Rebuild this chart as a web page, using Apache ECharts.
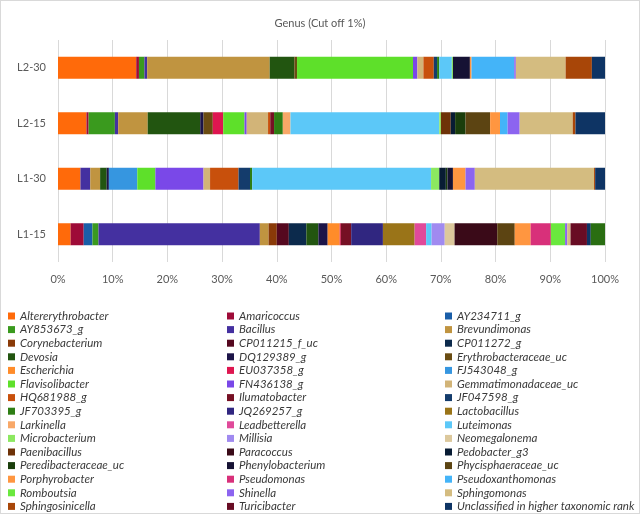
<!DOCTYPE html>
<html>
<head>
<meta charset="utf-8" />
<title>Genus (Cut off 1%)</title>
<script src="https://cdn.jsdelivr.net/npm/echarts@6/dist/echarts.min.js"></script>
<style>
	html, body { margin: 0; padding: 0; background: #fff; }
	#chart { width: 640px; height: 514px; box-sizing: border-box; border: 1px solid #d9d9d9; }
</style>
</head>
<body>
<div id="chart"></div>
<script type="text/javascript">
	// samples, bottom to top as in the picture
	const samples = ['L1-15', 'L1-30', 'L2-15', 'L2-30'];

	const genera = [
		'Altererythrobacter', 'Amaricoccus', 'AY234711_g', 'AY853673_g', 'Bacillus',
		'Brevundimonas', 'Corynebacterium', 'CP011215_f_uc', 'CP011272_g', 'Devosia',
		'DQ129389_g', 'Erythrobacteraceae_uc', 'Escherichia', 'EU037358_g', 'FJ543048_g',
		'Flavisolibacter', 'FN436138_g', 'Gemmatimonadaceae_uc', 'HQ681988_g', 'Ilumatobacter',
		'JF047598_g', 'JF703395_g', 'JQ269257_g', 'Lactobacillus', 'Larkinella',
		'Leadbetterella', 'Luteimonas', 'Microbacterium', 'Millisia', 'Neomegalonema',
		'Paenibacillus', 'Paracoccus', 'Pedobacter_g3', 'Peredibacteraceae_uc', 'Phenylobacterium',
		'Phycisphaeraceae_uc', 'Porphyrobacter', 'Pseudomonas', 'Pseudoxanthomonas', 'Romboutsia',
		'Shinella', 'Sphingomonas', 'Sphingosinicella', 'Turicibacter', 'Unclassified in higher taxonomic rank',
		'Others'
	];

	const colors = [
		'#ff6a0a', '#9e0b38', '#1a5ea8', '#3a9a1e', '#4430a0',
		'#c09440', '#8a3a08', '#55081f', '#0c2a4c', '#225510',
		'#1c1448', '#6a4c12', '#ff8c2a', '#de1650', '#3696e0',
		'#5ee02a', '#7a48e8', '#d2b478', '#c8500c', '#761024',
		'#143c6c', '#2e7e14', '#302680', '#9a7418', '#f8a868',
		'#e04a9a', '#5cc8f8', '#8ce860', '#a08af0', '#dcc89c',
		'#6e3208', '#3a0a18', '#081c34', '#1a3e0c', '#161234',
		'#5c4412', '#ff9640', '#d8307a', '#44b4f8', '#6ae83e',
		'#8c64f0', '#d4bc80', '#a84608', '#680c24', '#0e3464',
		'#2a6e12'
	];

	// relative abundance (%) per genus, same order as genera
	const l1_15 = [
		2.3, 2.4, 1.6, 1.1, 29.5, 1.6, 1.5, 2.2, 3.2, 2.2,
		1.7, 0, 2.2, 0.2, 0, 0, 0, 0, 0, 1.9,
		0, 0, 5.8, 5.8, 0, 2.1, 1.0, 0, 2.4, 1.8,
		0, 7.8, 0, 0, 0, 3.2, 2.9, 3.7, 0, 2.6,
		0.4, 0.6, 0, 3.0, 0.7, 2.6
	];
	const l1_30 = [
		4.1, 0, 0, 0, 1.8, 1.8, 0, 0, 0, 1.2,
		0.4, 0, 0, 0, 5.2, 3.3, 8.8, 1.2, 5.2, 0,
		2.1, 0.4, 0, 0, 0, 0, 32.7, 1.5, 0, 0,
		0, 0, 1.2, 0.3, 1.0, 0, 2.3, 0, 0, 0,
		1.7, 21.8, 0.2, 0, 1.8, 0
	];
	const l2_15 = [
		5.2, 0.4, 0, 4.8, 0.6, 5.4, 0, 0, 0, 9.6,
		0.6, 1.7, 0, 1.9, 0, 3.9, 0.4, 3.9, 0.4, 0.7,
		0, 1.6, 0, 0, 1.4, 0, 27.2, 0.3, 0, 0,
		1.8, 0, 0.8, 1.9, 0, 4.5, 1.8, 0, 1.4, 0,
		2.2, 9.7, 0.5, 0, 5.4, 0
	];
	const l2_30 = [
		14.3, 0.5, 0, 1.0, 0.5, 22.4, 0, 0, 0, 4.5,
		0, 0.5, 0, 0, 0, 21.2, 0.8, 1.1, 1.9, 0,
		0.6, 0.4, 0, 0, 0, 0, 2.3, 0.2, 0, 0,
		0, 0, 0, 0, 3.1, 0, 0.3, 0, 7.8, 0,
		0.3, 9.1, 4.8, 0, 2.4, 0
	];

	const xTicks = { min: 0, max: 100, step: 10 };

	const chart = echarts.init(document.getElementById('chart'), null, { renderer: 'canvas' });
	const sampleRows = [l1_15, l1_30, l2_15, l2_30];

	const series = genera.map(function (name, i) {
		return {
			name: name,
			type: 'bar',
			stack: 'total',
			barWidth: 22,
			itemStyle: { color: colors[i] },
			emphasis: { disabled: true },
			data: sampleRows.map(function (row) { return row[i]; })
		};
	});

	// legend in three columns, read row by row (Others is not listed)
	const legendFont = {
		color: '#3a3a3a',
		fontSize: 11.5,
		fontStyle: 'italic',
		fontFamily: 'Lato',
		lineHeight: 12
	};
	const columnLeft = [7, 226, 444];
	const legends = columnLeft.map(function (left, c) {
		const names = [];
		for (let i = c; i < 45; i += 3) names.push(genera[i]);
		return {
			orient: 'vertical',
			left: left,
			top: 309,
			icon: 'rect',
			itemWidth: 7,
			itemHeight: 7,
			itemGap: 1.6,
			padding: 0,
			selectedMode: false,
			textStyle: legendFont,
			data: names
		};
	});

	const option = {
		animation: false,
		textStyle: { fontFamily: 'Lato' },
		title: {
			text: 'Genus (Cut off 1%)',
			left: 'center',
			top: 12,
			textStyle: { color: '#595959', fontSize: 11, fontWeight: 'normal', fontFamily: 'Lato' }
		},
		legend: legends,
		grid: { left: 57, right: 34, top: 39, height: 222, containLabel: false },
		xAxis: {
			type: 'value',
			min: xTicks.min,
			max: xTicks.max,
			interval: xTicks.step,
			axisLine: { show: false },
			axisTick: { show: false },
			axisLabel: { formatter: '{value}%', color: '#595959', fontSize: 11, margin: 12 },
			splitLine: { lineStyle: { color: '#d9d9d9', width: 1 } }
		},
		yAxis: {
			type: 'category',
			data: samples,
			axisLine: { show: false },
			axisTick: { show: false },
			axisLabel: { color: '#595959', fontSize: 11, margin: 12 }
		},
		series: series
	};

	chart.setOption(option);
</script>
</body>
</html>
